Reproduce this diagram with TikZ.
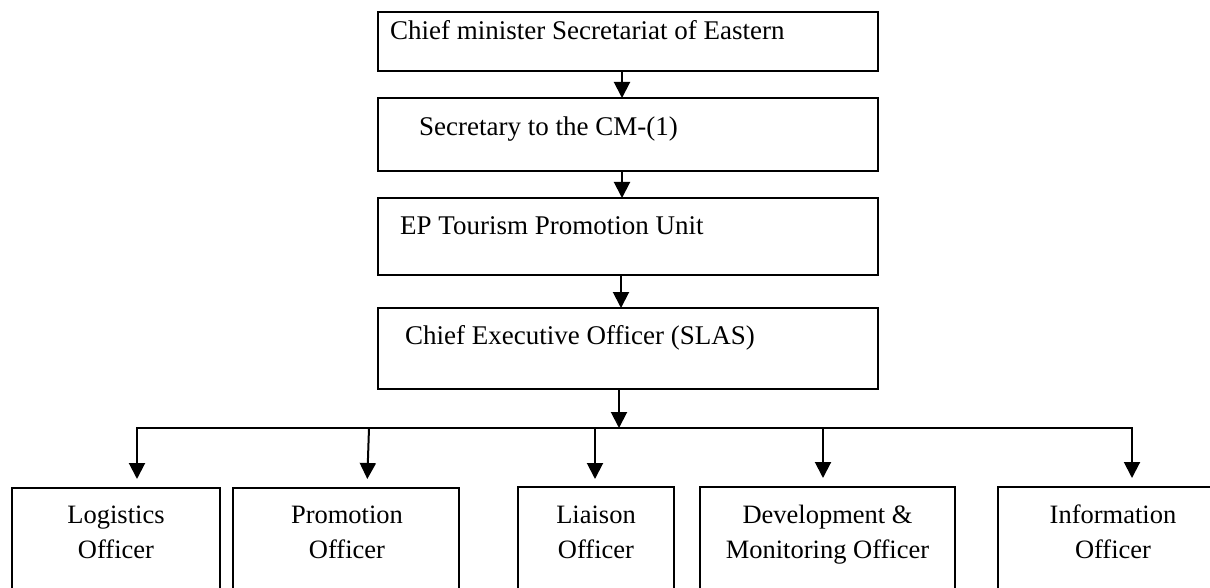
\documentclass[tikz,border=0pt]{standalone}
\usepackage{fontspec}
\setmainfont{Liberation Serif}
\usetikzlibrary{arrows.meta}
\begin{document}
\begin{tikzpicture}[x=1pt,y=-1pt,
  box/.style={draw, line width=2pt, inner sep=0pt, outer sep=0pt},
  txt/.style={font=\fontsize{27}{35}\selectfont, inner sep=0pt, anchor=base west},
  ctxt/.style={font=\fontsize{26.5}{35}\selectfont, inner sep=0pt, anchor=base},
  arr/.style={line width=2pt, line join=miter, -{Triangle[length=16pt,width=16pt]}},
  gap/.style={shorten >=9pt}]
\useasboundingbox (0,0) rectangle (1210,588);
\fill[white] (0,0) rectangle (1210,588);
% upper chain boxes
\node[box, minimum width=500pt, minimum height=59pt] (b1) at (628,41.5) {};
\node[box, minimum width=500pt, minimum height=73pt] (b2) at (628,134.5) {};
\node[box, minimum width=500pt, minimum height=77pt] (b3) at (628,236.5) {};
\node[box, minimum width=500pt, minimum height=81pt] (b4) at (628,348.5) {};
\node[txt] (t1) at (390,40) {Chief minister Secretariat of Eastern};
\node[txt] (t2) at (419,136) {Secretary to the CM-(1)};
\node[txt] (t3) at (400,234) {EP Tourism Promotion Unit};
\node[txt] (t4) at (405,344) {Chief Executive Officer (SLAS)};
% bottom boxes (cut by page edge)
\node[box, minimum width=208pt, minimum height=124pt] (log) at (116,550) {};
\node[box, minimum width=226pt, minimum height=124pt] (pro) at (346,550) {};
\node[box, minimum width=156pt, minimum height=126pt] (lia) at (596,550) {};
\node[box, minimum width=255pt, minimum height=126pt] (dev) at (827.5,550) {};
\node[box, minimum width=230pt, minimum height=126pt] (inf) at (1113,550) {};
\node[ctxt] (log1) at (116,523) {Logistics};
\node[ctxt] (log2) at (116,558) {Officer};
\node[ctxt] (pro1) at (347,523) {Promotion};
\node[ctxt] (pro2) at (347,558) {Officer};
\node[ctxt] (lia1) at (596,523) {Liaison};
\node[ctxt] (lia2) at (596,558) {Officer};
\node[ctxt] (dev1) at (827.5,523) {Development \&};
\node[ctxt] (dev2) at (827.5,558) {Monitoring Officer};
\node[ctxt] (inf1) at (1113,523) {Information};
\node[ctxt] (inf2) at (1113,558) {Officer};
% connector coordinates
\coordinate (a1) at (622,0);
\coordinate (a3) at (621,0);
\coordinate (hub) at (619,428);
\coordinate (hl) at (137,428);
\coordinate (hr) at (1132,428);
\coordinate (pa) at (369,428);
\coordinate (pb) at (367,488);
\coordinate (la) at (595,428);
\coordinate (da) at (823,428);
% chain arrows
\draw[arr] (b1.south -| a1) -- (b2.north -| a1);
\draw[arr] (b2.south -| a1) -- (b3.north -| a1);
\draw[arr] (b3.south -| a3) -- (b4.north -| a3);
\draw[arr] (b4.south -| hub) -- (hub);
% distribution
\draw[arr, gap] (hub) -- (hl) -- (log.north -| hl);
\draw[arr, gap] (hub) -- (hr) -- (inf.north -| hr);
\draw[arr, gap] (pa) -- (pb);
\draw[arr, shorten >=8pt] (la) -- (lia.north -| la);
\draw[arr, gap] (da) -- (dev.north -| da);
\end{tikzpicture}
\end{document}
